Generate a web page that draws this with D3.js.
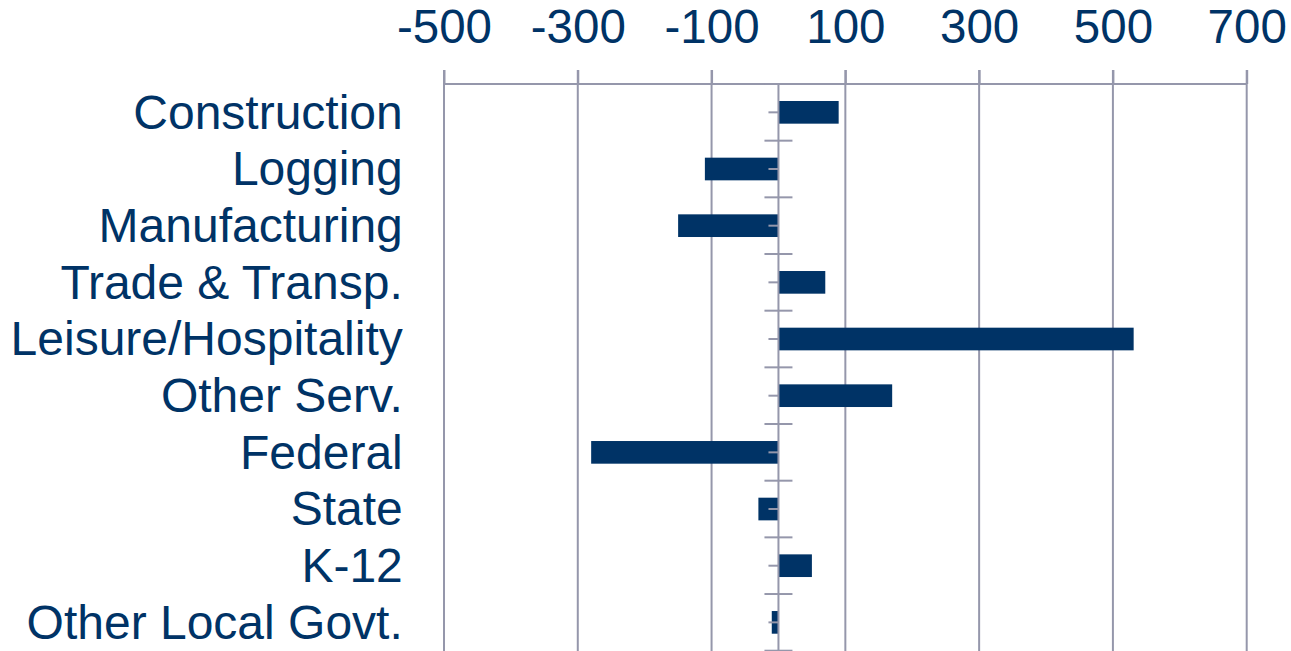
<!DOCTYPE html>
<html>
<head>
<meta charset="utf-8">
<script src="https://cdn.jsdelivr.net/npm/d3@7/dist/d3.min.js"></script>
<style>
  html, body { margin: 0; padding: 0; background: #ffffff; }
  svg { display: block; }
  text { font-family: "Liberation Sans", Arial, sans-serif; }
</style>
</head>
<body>
<svg id="chart" width="1291" height="651"></svg>
<script>
// Job change by industry (thousands)
const categories = [
  "Construction", "Logging", "Manufacturing", "Trade & Transp.",
  "Leisure/Hospitality", "Other Serv.", "Federal", "State", "K-12",
  "Other Local Govt."
];
const values = [90, -110, -150, 70, 531, 170, -280, -30, 50, -10];
const tickValues = [-500, -300, -100, 100, 300, 500, 700];

const navy = "#003366";
const gridColor = "#9597AB";

const svg = d3.select("#chart");

const x = d3.scaleLinear().domain([-500, 700]).range([444, 1246.7]);
const y = d3.scaleBand().domain(categories).range([84, 650.7]).paddingInner(0).paddingOuter(0);

const data = categories.map((c, i) => ({ name: c, value: values[i] }));

// Vertical gridlines at each labelled value
svg.append("g")
  .selectAll("line")
  .data(tickValues)
  .join("line")
  .attr("x1", d => x(d)).attr("x2", d => x(d))
  .attr("y1", 70).attr("y2", 651)
  .attr("stroke", gridColor)
  .attr("stroke-width", 2);

// Top value axis
const xAxis = svg.append("g")
  .attr("transform", "translate(0,84)")
  .call(d3.axisTop(x).tickValues(tickValues).tickSize(14).tickSizeOuter(0).tickPadding(27).tickFormat(d3.format("d")));
xAxis.select(".domain").attr("stroke", gridColor).attr("stroke-width", 2)
  .attr("d", `M${x(-500)},0H${x(700)}`);
xAxis.selectAll(".tick line").attr("stroke", gridColor).attr("stroke-width", 2);
xAxis.selectAll(".tick text")
  .attr("fill", navy)
  .attr("font-size", 47.5)
  .attr("font-family", "Liberation Sans, Arial, sans-serif")
  .text(d => d < 0 ? "-" + Math.abs(d) : d);

// Bars
const barH = y.bandwidth() * 0.4;
svg.append("g")
  .selectAll("rect")
  .data(data)
  .join("rect")
  .attr("x", d => Math.min(x(0), x(d.value)))
  .attr("width", d => Math.abs(x(d.value) - x(0)))
  .attr("y", d => y(d.name) + (y.bandwidth() - barH) / 2)
  .attr("height", barH)
  .attr("fill", navy);

// Category axis at zero, with labels on the left
const yAxis = svg.append("g")
  .attr("transform", `translate(${x(0)},0)`)
  .call(d3.axisLeft(y).tickSize(10).tickSizeOuter(0).tickPadding(365.7));
yAxis.select(".domain").attr("stroke", gridColor).attr("stroke-width", 2)
  .attr("d", `M0,84V651`);
yAxis.selectAll(".tick line").attr("stroke", gridColor).attr("stroke-width", 2);
yAxis.selectAll(".tick text")
  .attr("fill", navy)
  .attr("font-size", 48)
  .attr("dy", "0.34em")
  .attr("font-family", "Liberation Sans, Arial, sans-serif");

// Category boundary marks crossing the zero line
const bounds = categories.map(c => y(c)).concat([y.range()[1]]);
svg.append("g")
  .selectAll("line")
  .data(bounds)
  .join("line")
  .attr("x1", x(0) - 14).attr("x2", x(0) + 14)
  .attr("y1", d => d).attr("y2", d => d)
  .attr("stroke", gridColor)
  .attr("stroke-width", 2);
</script>
</body>
</html>
